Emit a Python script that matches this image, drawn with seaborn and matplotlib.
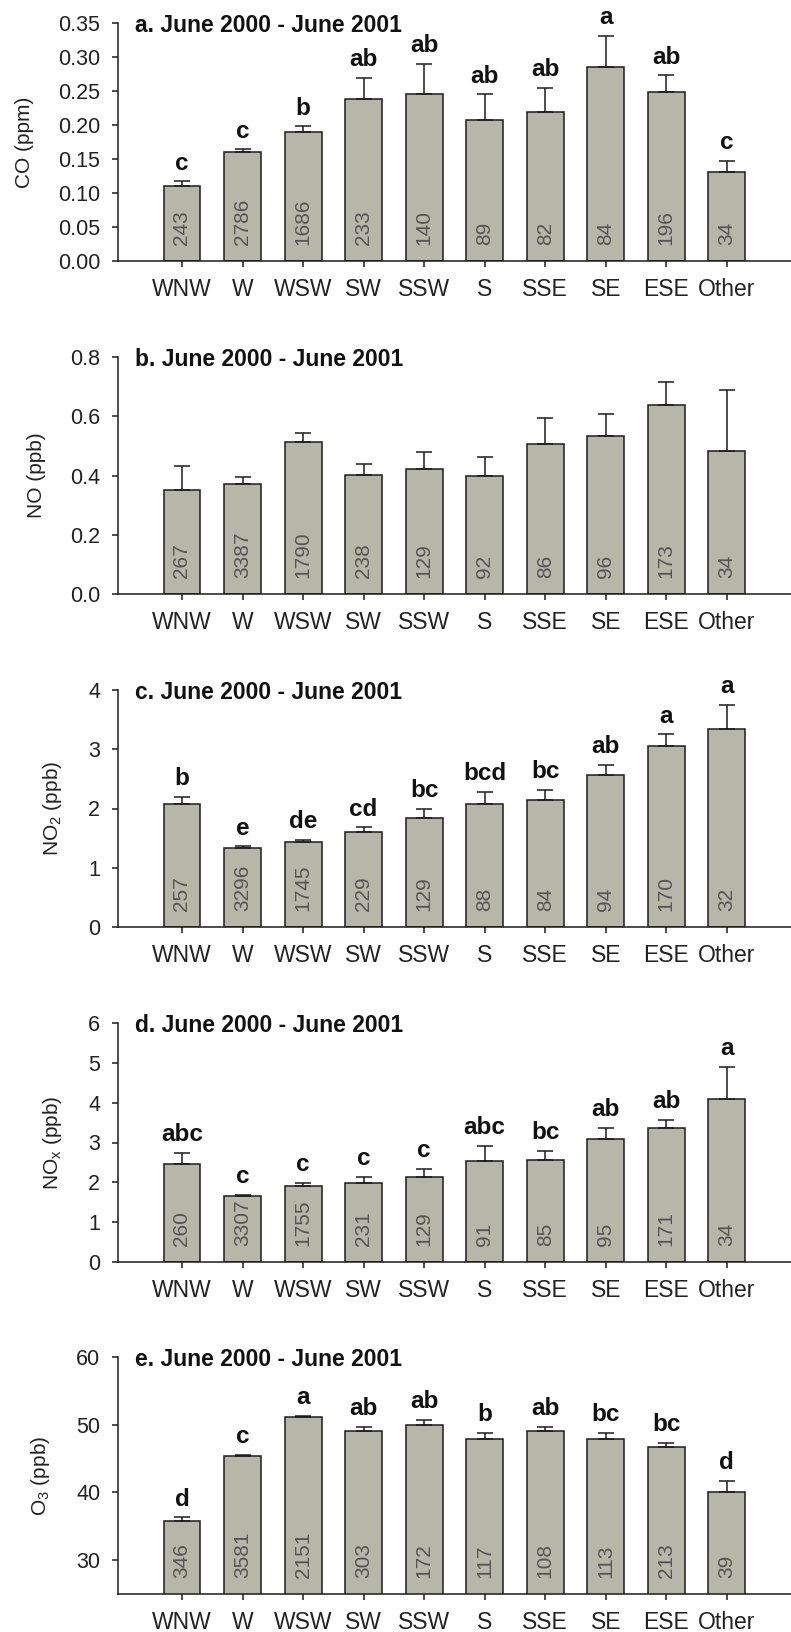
import numpy as np
import pandas as pd
import matplotlib
matplotlib.use("Agg")
import matplotlib.pyplot as plt
import seaborn as sns

# ---------------- data ----------------
directions = ["WNW", "W", "WSW", "SW", "SSW", "S", "SSE", "SE", "ESE", "Other"]

co_mean = [0.110, 0.161, 0.190, 0.238, 0.245, 0.208, 0.219, 0.286, 0.249, 0.131]
co_upper = [0.117, 0.164, 0.198, 0.269, 0.290, 0.245, 0.254, 0.331, 0.273, 0.147]
co_n = [243, 2786, 1686, 233, 140, 89, 82, 84, 196, 34]
co_letters = ["c", "c", "b", "ab", "ab", "ab", "ab", "a", "ab", "c"]

no_mean = [0.351, 0.372, 0.513, 0.403, 0.423, 0.398, 0.508, 0.535, 0.637, 0.484]
no_upper = [0.432, 0.395, 0.544, 0.440, 0.480, 0.462, 0.595, 0.608, 0.714, 0.688]
no_n = [267, 3387, 1790, 238, 129, 92, 86, 96, 173, 34]
no_letters = [""] * 10

no2_mean = [2.07, 1.34, 1.43, 1.61, 1.84, 2.07, 2.14, 2.56, 3.06, 3.34]
no2_upper = [2.19, 1.36, 1.47, 1.68, 1.99, 2.28, 2.31, 2.73, 3.25, 3.75]
no2_n = [257, 3296, 1745, 229, 129, 88, 84, 94, 170, 32]
no2_letters = ["b", "e", "de", "cd", "bc", "bcd", "bc", "ab", "a", "a"]

nox_mean = [2.47, 1.66, 1.92, 1.99, 2.14, 2.53, 2.56, 3.10, 3.36, 4.10]
nox_upper = [2.73, 1.69, 1.99, 2.14, 2.34, 2.92, 2.79, 3.37, 3.57, 4.89]
nox_n = [260, 3307, 1755, 231, 129, 91, 85, 95, 171, 34]
nox_letters = ["abc", "c", "c", "c", "c", "abc", "bc", "ab", "ab", "a"]

o3_mean = [35.8, 45.4, 51.2, 49.1, 49.9, 47.9, 49.0, 47.9, 46.7, 40.0]
o3_upper = [36.3, 45.6, 51.3, 49.7, 50.7, 48.8, 49.7, 48.8, 47.3, 41.7]
o3_n = [346, 3581, 2151, 303, 172, 117, 108, 113, 213, 39]
o3_letters = ["d", "c", "a", "ab", "ab", "b", "ab", "bc", "bc", "d"]

titles = ["a. June 2000 - June 2001", "b. June 2000 - June 2001",
          "c. June 2000 - June 2001", "d. June 2000 - June 2001",
          "e. June 2000 - June 2001"]
ylabels = ["CO (ppm)", "NO (ppb)", r"NO$_\mathregular{2}$ (ppb)",
           r"NO$_\mathregular{x}$ (ppb)", r"O$_\mathregular{3}$ (ppb)"]
yticks_list = [[0.00, 0.05, 0.10, 0.15, 0.20, 0.25, 0.30, 0.35],
               [0.0, 0.2, 0.4, 0.6, 0.8],
               [0, 1, 2, 3, 4],
               [0, 1, 2, 3, 4, 5, 6],
               [30, 40, 50, 60]]
ytick_fmt = ["{:.2f}", "{:.1f}", "{:.0f}", "{:.0f}", "{:.0f}"]
ylims = [(0, 0.35), (0, 0.8), (0, 4), (0, 6), (25, 60)]

# ---------------- style ----------------
sns.set_style("ticks")
plt.rcParams["font.family"] = ["Liberation Sans", "DejaVu Sans"]
plt.rcParams["mathtext.fontset"] = "custom"
plt.rcParams["mathtext.rm"] = "Liberation Sans"
plt.rcParams["mathtext.it"] = "Liberation Sans:italic"
plt.rcParams["mathtext.bf"] = "Liberation Sans:bold"

BAR = "#b6b6a9"
EDGE = "#1c1c1c"
W, H = 791, 1632
fig = plt.figure(figsize=(W / 100, H / 100), dpi=100)

# axes pixel extents (top, bottom)
extents = [(23, 261), (357, 594), (690, 927), (1023, 1262), (1357, 1594)]
left_px = 118

panels = [
    (co_mean, co_upper, co_n, co_letters),
    (no_mean, no_upper, no_n, no_letters),
    (no2_mean, no2_upper, no2_n, no2_letters),
    (nox_mean, nox_upper, nox_n, nox_letters),
    (o3_mean, o3_upper, o3_n, o3_letters),
]

for k, (mean, upper, counts, letters) in enumerate(panels):
    top, bot = extents[k]
    ax = fig.add_axes([left_px / W, 1 - bot / H, 1 - left_px / W, (bot - top) / H])
    df = pd.DataFrame({"dir": directions, "val": mean})
    sns.barplot(data=df, x="dir", y="val", order=directions, color=BAR,
                saturation=1, edgecolor=EDGE, linewidth=1.1, width=0.61,
                errorbar=None, ax=ax, zorder=2)
    n = len(mean)
    xs = np.arange(n)
    mean_a = np.array(mean)
    up_a = np.array(upper)
    ax.errorbar(xs, mean_a, yerr=[np.zeros(n), up_a - mean_a], fmt="none",
                ecolor=EDGE, elinewidth=1.1, capsize=5.8, capthick=1.1, zorder=3)

    ax.set_ylim(*ylims[k])
    ax.set_xlim(-1.057, 10.06)
    ax.set_yticks(yticks_list[k])
    ax.set_yticklabels([ytick_fmt[k].format(t) for t in yticks_list[k]])
    ax.set_xlabel("")
    ax.set_ylabel(ylabels[k], fontsize=15, labelpad=17, color="#222222")

    for i in range(n):
        ax.annotate(str(counts[i]), xy=(i, ylims[k][0]), xytext=(0, 11.5),
                    textcoords="offset points", rotation=90, ha="center",
                    va="bottom", fontsize=15, color="#555555", zorder=4)
        if letters[i]:
            ax.annotate(letters[i], xy=(i, upper[i]), xytext=(0, 8.5),
                        textcoords="offset points", ha="center", va="baseline",
                        fontsize=17.5, fontweight="bold", color="#111111")

    ax.annotate(titles[k], xy=(0.0253, 1.0), xycoords="axes fraction",
                xytext=(0, -6.5), textcoords="offset points", ha="left",
                va="baseline", fontsize=16.5, fontweight="bold", color="#111111")

    sns.despine(ax=ax)
    for s in ("left", "bottom"):
        ax.spines[s].set_linewidth(1.1)
        ax.spines[s].set_color(EDGE)
    ax.tick_params(axis="both", direction="out", length=4.3, width=1.1,
                   color=EDGE, labelcolor="#222222")
    ax.tick_params(axis="y", labelsize=15.5, pad=8.5)
    ax.tick_params(axis="x", labelsize=16.5, pad=8)
    ax.set_facecolor("white")

fig.savefig("out.png", dpi=100, facecolor="white")
